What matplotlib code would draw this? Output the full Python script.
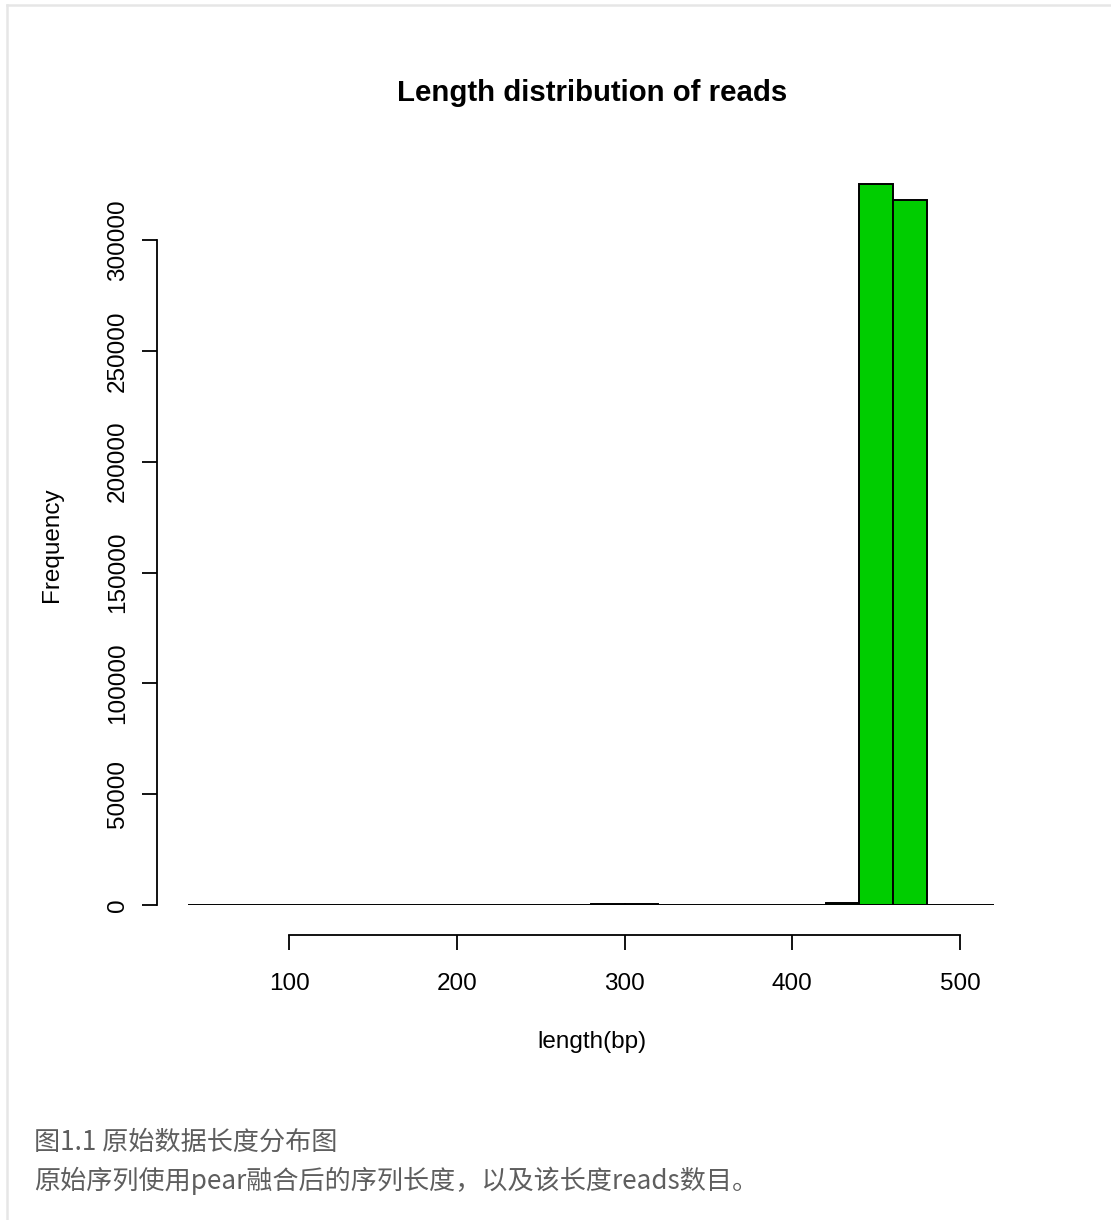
import matplotlib
matplotlib.use('Agg')
import matplotlib.pyplot as plt
import numpy as np

plt.rcParams['font.family'] = ['Liberation Sans', 'DejaVu Sans']

# 长度分箱（bp）及每箱 reads 数
bin_edges = list(range(40, 540, 20))
counts = [40, 40, 40, 40, 40, 40, 40, 40, 40, 40, 40, 40,
          600, 500, 40, 40, 40, 40, 40, 700, 325300, 318000, 200, 100]
x_ticks = [100, 200, 300, 400, 500]
y_ticks = [0, 50000, 100000, 150000, 200000, 250000, 300000]

W, H = 1111, 1220
fig = plt.figure(figsize=(W / 100, H / 100), dpi=100)

# 绘图区：x 40..520 对应像素 188..994，y 0..330000 对应像素 905..174
x0, x1 = 188.4, 993.6
y0 = 905
ypx_per = 665 / 300000
ymax = 330000
ax = fig.add_axes([x0 / W, (H - y0) / H, (x1 - x0) / W, ymax * ypx_per / H])
ax.bar(bin_edges[:-1], counts, width=20, align='edge', color='#00CD00',
       edgecolor='black', linewidth=1.4)
ax.set_xlim(40, 520)
ax.set_ylim(0, ymax)

for s in ['top', 'right']:
    ax.spines[s].set_visible(False)
ax.spines['left'].set_position(('outward', 22.6))
ax.spines['bottom'].set_position(('outward', 21.6))
ax.spines['left'].set_bounds(0, 300000)
ax.spines['bottom'].set_bounds(100, 500)
ax.spines['left'].set_linewidth(1.3)
ax.spines['bottom'].set_linewidth(1.3)

ax.set_xticks(x_ticks)
ax.set_yticks(y_ticks)
ax.set_yticklabels([str(v) for v in y_ticks], rotation=90, va='center')
ax.tick_params(axis='both', length=11, width=1.3, labelsize=17.5)
ax.tick_params(axis='x', pad=16)
ax.tick_params(axis='y', pad=9)

fig.text(592 / W, 1 - 93 / H, 'Length distribution of reads', ha='center',
         va='center', fontsize=21.2, fontweight='bold')
fig.text(592 / W, 1 - 1042 / H, 'length(bp)', ha='center', va='center',
         fontsize=17.5)
fig.text(52 / W, 1 - 545 / H, 'Frequency', ha='center', va='center',
         fontsize=17.5, rotation=90)

# 图注
cjk = ['Noto Sans CJK SC', 'DejaVu Sans']
fig.text(34 / W, 1 - 1142 / H, '图1.1 原始数据长度分布图', ha='left',
         va='center', fontsize=18.8, color='#5e5e5e', family=cjk)
fig.text(34 / W, 1 - 1181 / H, '原始序列使用pear融合后的序列长度，以及该长度reads数目。',
         ha='left', va='center', fontsize=18.8, color='#5e5e5e', family=cjk)

# 外框（上、左）
fig.add_artist(plt.Line2D([7 / W, 1], [1 - 5 / H, 1 - 5 / H],
                          transform=fig.transFigure, color='#e6e6e6', lw=1.8))
fig.add_artist(plt.Line2D([7 / W, 7 / W], [1 - 5 / H, 0],
                          transform=fig.transFigure, color='#e6e6e6', lw=1.8))

fig.savefig('out.png', dpi=100)
